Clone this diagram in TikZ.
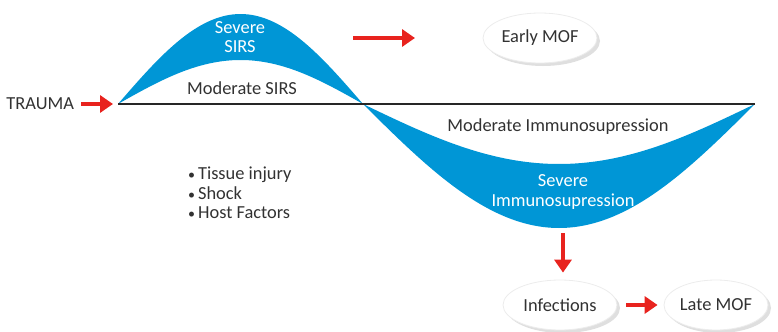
\documentclass[tikz,border=0pt]{standalone}
\usepackage{fontspec}
\setmainfont{Carlito}
\usetikzlibrary{arrows.meta,shapes.geometric,shadows}
\definecolor{sirsblue}{RGB}{0,150,214}
\definecolor{arrowred}{RGB}{232,35,30}
\definecolor{textgray}{RGB}{50,50,50}

\begin{document}
\begin{tikzpicture}[x=0.5pt,y=-0.5pt,>={Triangle[length=6.5pt,width=8.5pt]},font=\fontsize{9.2}{9.8}\selectfont,
  redarrow/.style={->,arrowred,line width=1.9pt},
  outcome/.style={ellipse,fill=white,draw=gray!15,text=textgray,minimum width=57pt,minimum height=25pt,inner sep=0pt,
    drop shadow={opacity=0.25,shadow xshift=1.5pt,shadow yshift=-1.5pt}},
  lbl/.style={text=textgray,align=center},
  inlbl/.style={text=white,align=center}]
\useasboundingbox (0,0) rectangle (778,332);
% wave
\coordinate (O) at (118,104);
\coordinate (X) at (363,104);
\coordinate (E) at (755,104);
\fill[sirsblue] (O) sin (240.5,14) cos (X) sin (240.5,60) cos (O) -- cycle;
\fill[sirsblue] (X) sin (559,228) cos (E) sin (559,164) cos (X) -- cycle;
\draw[line width=1.2pt,black!85] (O) -- (E);
% labels on the wave
\node[lbl,anchor=east] (trauma) at (81,104) {TRAUMA};
\draw[redarrow] (trauma.east) -- ([xshift=-2.5pt]O);
\node[inlbl] (sirsSevere) at (240,37) {Severe\\SIRS};
\node[lbl] (sirsModerate) at (242,88) {Moderate SIRS};
\node[lbl] (immModerate) at (558,127) {Moderate Immunosupression};
\node[inlbl] (immSevere) at (563,192) {Severe\\Immunosupression};
\node[lbl,align=left,anchor=north west] (factors) at (181,160)
  {{\scriptsize\textbullet}\,Tissue injury\\{\scriptsize\textbullet}\,Shock\\{\scriptsize\textbullet}\,Host Factors};
% outcomes
\coordinate (earlyTail) at (353,38);
\coordinate (earlyTip) at (415,38);
\draw[redarrow] (earlyTail) -- (earlyTip);
\node[outcome] (earlyMOF) at (540,38) {Early MOF};
\node[outcome] (infections) at (560,305) {Infections};
\node[outcome,minimum width=52pt] (lateMOF) at (716,305) {Late MOF};
\coordinate (trough) at (563,233);
\draw[redarrow,shorten >=3.5pt] (trough) -- (trough |- infections.north);
\draw[redarrow,shorten <=4.5pt,shorten >=3pt] (infections) -- (lateMOF);
\end{tikzpicture}
\end{document}
